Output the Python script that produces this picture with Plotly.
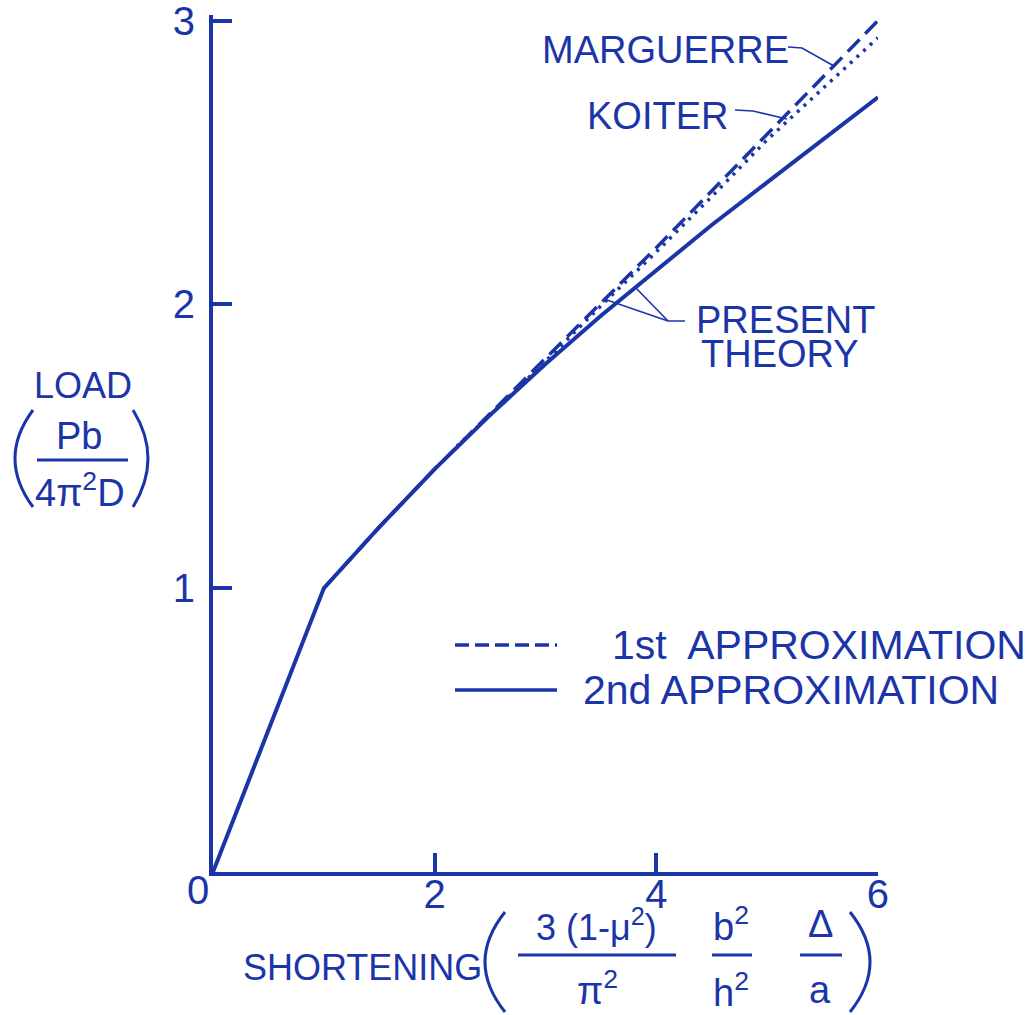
import plotly.graph_objects as go

# Post-buckling load vs. end shortening of a flat plate
INK = "#1b35a8"
FONT = "Liberation Sans, Arial, sans-serif"

# present theory, 2nd approximation (solid)
x_second = [0, 1, 1.5, 2, 2.5, 3, 3.5, 4, 4.5, 5, 5.5, 6]
y_second = [0, 1, 1.215, 1.42, 1.61, 1.79, 1.96, 2.12, 2.28, 2.43, 2.58, 2.73]

# present theory, 1st approximation (same as Marguerre, dashed)
x_first = [1, 1.5, 2, 2.5, 3, 3.5, 4, 4.5, 5, 5.5, 6]
y_first = [1, 1.215, 1.42, 1.615, 1.81, 2.005, 2.2, 2.4, 2.6, 2.8, 3.0]

# Koiter (dotted)
x_koiter = [2.2, 2.5, 3, 3.5, 4, 4.5, 5, 5.5, 6]
y_koiter = [1.5, 1.61, 1.8, 1.995, 2.185, 2.38, 2.58, 2.76, 2.94]

x_ticks = [2, 4, 6]
y_ticks = [1, 2, 3]

# figure geometry (pixels); y axis runs a hair past 3 so the top tick shows
W, H = 1033, 1015
Y_MAX = 3.02
L, R, B = 213, 155, 143
T = round((H - B) - Y_MAX * (H - B - 21) / 3)
PW, PH = W - L - R, H - T - B


def px(xp):
    return (xp - L) / PW


def py(yp):
    return (H - B - yp) / PH


fig = go.Figure()
fig.add_trace(go.Scatter(x=x_second, y=y_second, mode="lines",
                         line=dict(color=INK, width=4), showlegend=False))
fig.add_trace(go.Scatter(x=x_koiter, y=y_koiter, mode="lines",
                         line=dict(color=INK, width=3.5, dash="3px,6px"),
                         showlegend=False))
fig.add_trace(go.Scatter(x=x_first, y=y_first, mode="lines",
                         line=dict(color=INK, width=3.5, dash="17px,8px"),
                         showlegend=False))

shapes = []


def seg(pts, width=1.6, dash=None):
    path = "M " + " L ".join(f"{px(a):.5f},{py(b):.5f}" for a, b in pts)
    d = dict(type="path", path=path, xref="paper", yref="paper",
             line=dict(color=INK, width=width))
    if dash:
        d["line"]["dash"] = dash
    shapes.append(d)


def paren(x_end, x_mid, y_top, y_bot, width=3):
    ctrl = 2 * x_mid - x_end
    ym = (y_top + y_bot) / 2
    path = (f"M {px(x_end):.5f},{py(y_top):.5f} "
            f"Q {px(ctrl):.5f},{py(ym):.5f} {px(x_end):.5f},{py(y_bot):.5f}")
    shapes.append(dict(type="path", path=path, xref="paper", yref="paper",
                       line=dict(color=INK, width=width)))


# leader lines
seg([(788, 47), (802, 48), (834, 66)])
seg([(735, 110), (753, 111), (787, 119)])
seg([(685, 321), (668, 321), (635, 287)])
seg([(668, 321), (604, 299)])

# key samples
seg([(455, 645), (557, 645)], width=3.5, dash="14px,6px")
seg([(455, 690), (557, 690)], width=3.5)

# y-axis title: fraction and brackets
seg([(37, 460), (128, 460)], width=3)
paren(33, 15, 410, 507)
paren(133, 148, 410, 507)

# x-axis title: fractions and brackets
seg([(518, 955), (676, 955)], width=3)
seg([(712, 955), (752, 955)], width=3)
seg([(800, 955), (842, 955)], width=3)
paren(505, 485, 912, 1012)
paren(850, 870, 912, 1012)

annotations = []


def label(text, xp, yp, size=38, xanchor="center"):
    annotations.append(dict(text=text, x=px(xp), y=py(yp), xref="paper",
                            yref="paper", showarrow=False, xanchor=xanchor,
                            yanchor="middle",
                            font=dict(family=FONT, size=size, color=INK)))


label("MARGUERRE", 665, 50)
label("KOITER", 657, 116)
label("PRESENT", 785, 320)
label("THEORY", 780, 354)
label("1st  APPROXIMATION", 610, 645, size=41, xanchor="left")
label("2nd APPROXIMATION", 581, 690, size=41, xanchor="left")

label("LOAD", 83, 385, size=36)
label("Pb", 79, 436, size=38)
label("4π<sup>2</sup>D", 80, 490, size=38)

label("SHORTENING", 362, 967, size=36)
label("3 (1-μ<sup>2</sup>)", 596, 925, size=36)
label("π<sup>2</sup>", 597, 988, size=38)
label("b<sup>2</sup>", 731, 924, size=38)
label("h<sup>2</sup>", 731, 990, size=38)
label("Δ", 820, 924, size=38)
label("a", 820, 990, size=38)

label("0", 198, 890, size=40)

fig.update_layout(
    width=W, height=H,
    margin=dict(l=L, r=R, t=T, b=B, pad=0, autoexpand=False),
    paper_bgcolor="white", plot_bgcolor="white",
    shapes=shapes, annotations=annotations,
    xaxis=dict(range=[0, 6.0005], showgrid=False, zeroline=False,
               showline=True, linecolor=INK, linewidth=4, ticks="inside",
               ticklen=19, tickwidth=4, tickcolor=INK, tickvals=x_ticks,
               ticktext=[str(v) for v in x_ticks], ticklabelstandoff=-16,
               ticklabeloverflow="allow", automargin=False,
               tickfont=dict(family=FONT, size=40, color=INK)),
    yaxis=dict(range=[0, Y_MAX], showgrid=False, zeroline=False,
               showline=True, linecolor=INK, linewidth=4, ticks="inside",
               ticklen=19, tickwidth=4, tickcolor=INK, tickvals=y_ticks,
               ticktext=[str(v) for v in y_ticks], ticklabelstandoff=6,
               ticklabeloverflow="allow", automargin=False,
               tickfont=dict(family=FONT, size=40, color=INK)),
)

fig.write_html("out.html")
